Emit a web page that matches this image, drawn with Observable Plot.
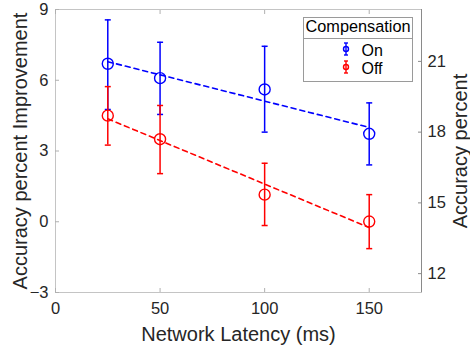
<!DOCTYPE html>
<html><head><meta charset="utf-8">
<script src="https://cdn.jsdelivr.net/npm/d3@7"></script>
<script src="https://cdn.jsdelivr.net/npm/@observablehq/plot@0.6"></script>
<style>html,body{margin:0;padding:0;background:#fff}#chart svg{display:block}</style>
</head><body><div id="chart"></div>
<script>
const latency = [25, 50, 100, 150];
const onMean = [6.70, 6.09, 5.61, 3.73];
const onLow = [4.76, 4.55, 3.80, 2.41];
const onHigh = [8.56, 7.61, 7.44, 5.04];
const offMean = [4.50, 3.50, 1.15, 0.01];
const offLow = [3.25, 2.04, -0.16, -1.14];
const offHigh = [5.73, 4.93, 2.48, 1.15];
const series = ["On", "Off"];
const colors = ["#0000ff", "#ff0000"];
const xTicks = [0, 50, 100, 150];
const yTicks = [-3, 0, 3, 6, 9];
const rightTicks = [12, 15, 18, 21];
const xDomain = [0, 175];
const yDomain = [-3, 9];
const rightDomain = [11.2, 23.2];
const xLabel = "Network Latency (ms)";
const yLabel = "Accuracy percent Improvement";
const rightLabel = "Accuracy percent";
const legendTitle = "Compensation";

const data = [];
latency.forEach((x, i) => {
  data.push({x, s: "On", m: onMean[i], lo: onLow[i], hi: onHigh[i]});
});
latency.forEach((x, i) => {
  data.push({x, s: "Off", m: offMean[i], lo: offLow[i], hi: offHigh[i]});
});

const toLeft = d3.scaleLinear(rightDomain, yDomain);
const capSymbol = {draw(ctx) { ctx.moveTo(-3, 0); ctx.lineTo(3, 0); }};
const font = "'Liberation Sans', Arial, Helvetica, sans-serif";

const marks = [];
for (const s of series) {
  const c = colors[series.indexOf(s)];
  const sd = data.filter(d => d.s === s);
  marks.push(
    Plot.ruleX(sd, {x: "x", y1: "lo", y2: "hi", stroke: c, strokeWidth: 1.5}),
    Plot.dot(sd, {x: "x", y: "lo", symbol: capSymbol, r: 3, stroke: c, strokeWidth: 1.5, fill: "none"}),
    Plot.dot(sd, {x: "x", y: "hi", symbol: capSymbol, r: 3, stroke: c, strokeWidth: 1.5, fill: "none"}),
    Plot.dot(sd, {x: "x", y: "m", r: 5.5, stroke: c, strokeWidth: 1.4, fill: "none"}),
    Plot.linearRegressionY(sd, {x: "x", y: "m", stroke: c, ci: 0, strokeWidth: 1.6, strokeDasharray: "5,4"})
  );
}

const svg = Plot.plot({
  width: 470,
  height: 347,
  marginLeft: 55,
  marginRight: 49,
  marginTop: 9,
  marginBottom: 55,
  style: {fontFamily: font, fontSize: "16.5px", color: "#262626", background: "#fff"},
  x: {domain: xDomain},
  y: {domain: yDomain},
  marks: [
    Plot.frame({stroke: "#c4c4c4"}),
    Plot.ruleX([xDomain[1]], {stroke: "#8a8a8a"}),
    Plot.axisX({ticks: xTicks, tickSize: -4, tickPadding: 14, label: null, stroke: "#b0b0b0"}),
    Plot.axisX({anchor: "top", ticks: xTicks, tickSize: -4, tickFormat: () => "", label: null, stroke: "#b0b0b0"}),
    Plot.axisY({ticks: yTicks, tickSize: -4, tickPadding: 11, label: null, stroke: "#b0b0b0"}),
    Plot.axisY({anchor: "right", ticks: rightTicks.map(toLeft), tickSize: -4, tickPadding: 10,
      tickFormat: d => String(Math.round(toLeft.invert(d))), label: null, stroke: "#8a8a8a"}),
    Plot.text([xLabel], {frameAnchor: "bottom", text: d => d, textAnchor: "middle", lineAnchor: "top", dy: 34, fontSize: 20}),
    Plot.text([yLabel], {frameAnchor: "left", text: d => d, textAnchor: "middle", rotate: -90, dx: -35, fontSize: 20}),
    Plot.text([rightLabel], {frameAnchor: "right", text: d => d, textAnchor: "middle", rotate: -90, dx: 39.5, fontSize: 20}),
    ...marks
  ]
});

// Legend box inside the plot area
const g = d3.select(svg).append("g").attr("font-family", font);
g.append("rect").attr("x", 303.5).attr("y", 17.5).attr("width", 109).attr("height", 64)
  .attr("fill", "#fff").attr("stroke", "#9a9a9a");
g.append("line").attr("x1", 303.5).attr("x2", 412.5).attr("y1", 38.5).attr("y2", 38.5).attr("stroke", "#9a9a9a");
g.append("text").attr("x", 358).attr("y", 32).attr("text-anchor", "middle").attr("font-size", 16.3)
  .attr("fill", "#000").text(legendTitle);
series.forEach((s, i) => {
  const cy = 49 + i * 18;
  const c = colors[i];
  const eg = g.append("g").attr("stroke", c).attr("stroke-width", 1.4).attr("fill", "none");
  eg.append("line").attr("x1", 346).attr("x2", 346).attr("y1", cy - 6).attr("y2", cy + 6);
  eg.append("line").attr("x1", 344).attr("x2", 348).attr("y1", cy - 6).attr("y2", cy - 6);
  eg.append("line").attr("x1", 344).attr("x2", 348).attr("y1", cy + 6).attr("y2", cy + 6);
  eg.append("circle").attr("cx", 346).attr("cy", cy).attr("r", 2.5);
  g.append("text").attr("x", 361.5).attr("y", cy + 7).attr("text-anchor", "start").attr("font-size", 16)
    .attr("fill", "#000").text(s);
});

document.getElementById("chart").appendChild(svg);
</script>
</body></html>
